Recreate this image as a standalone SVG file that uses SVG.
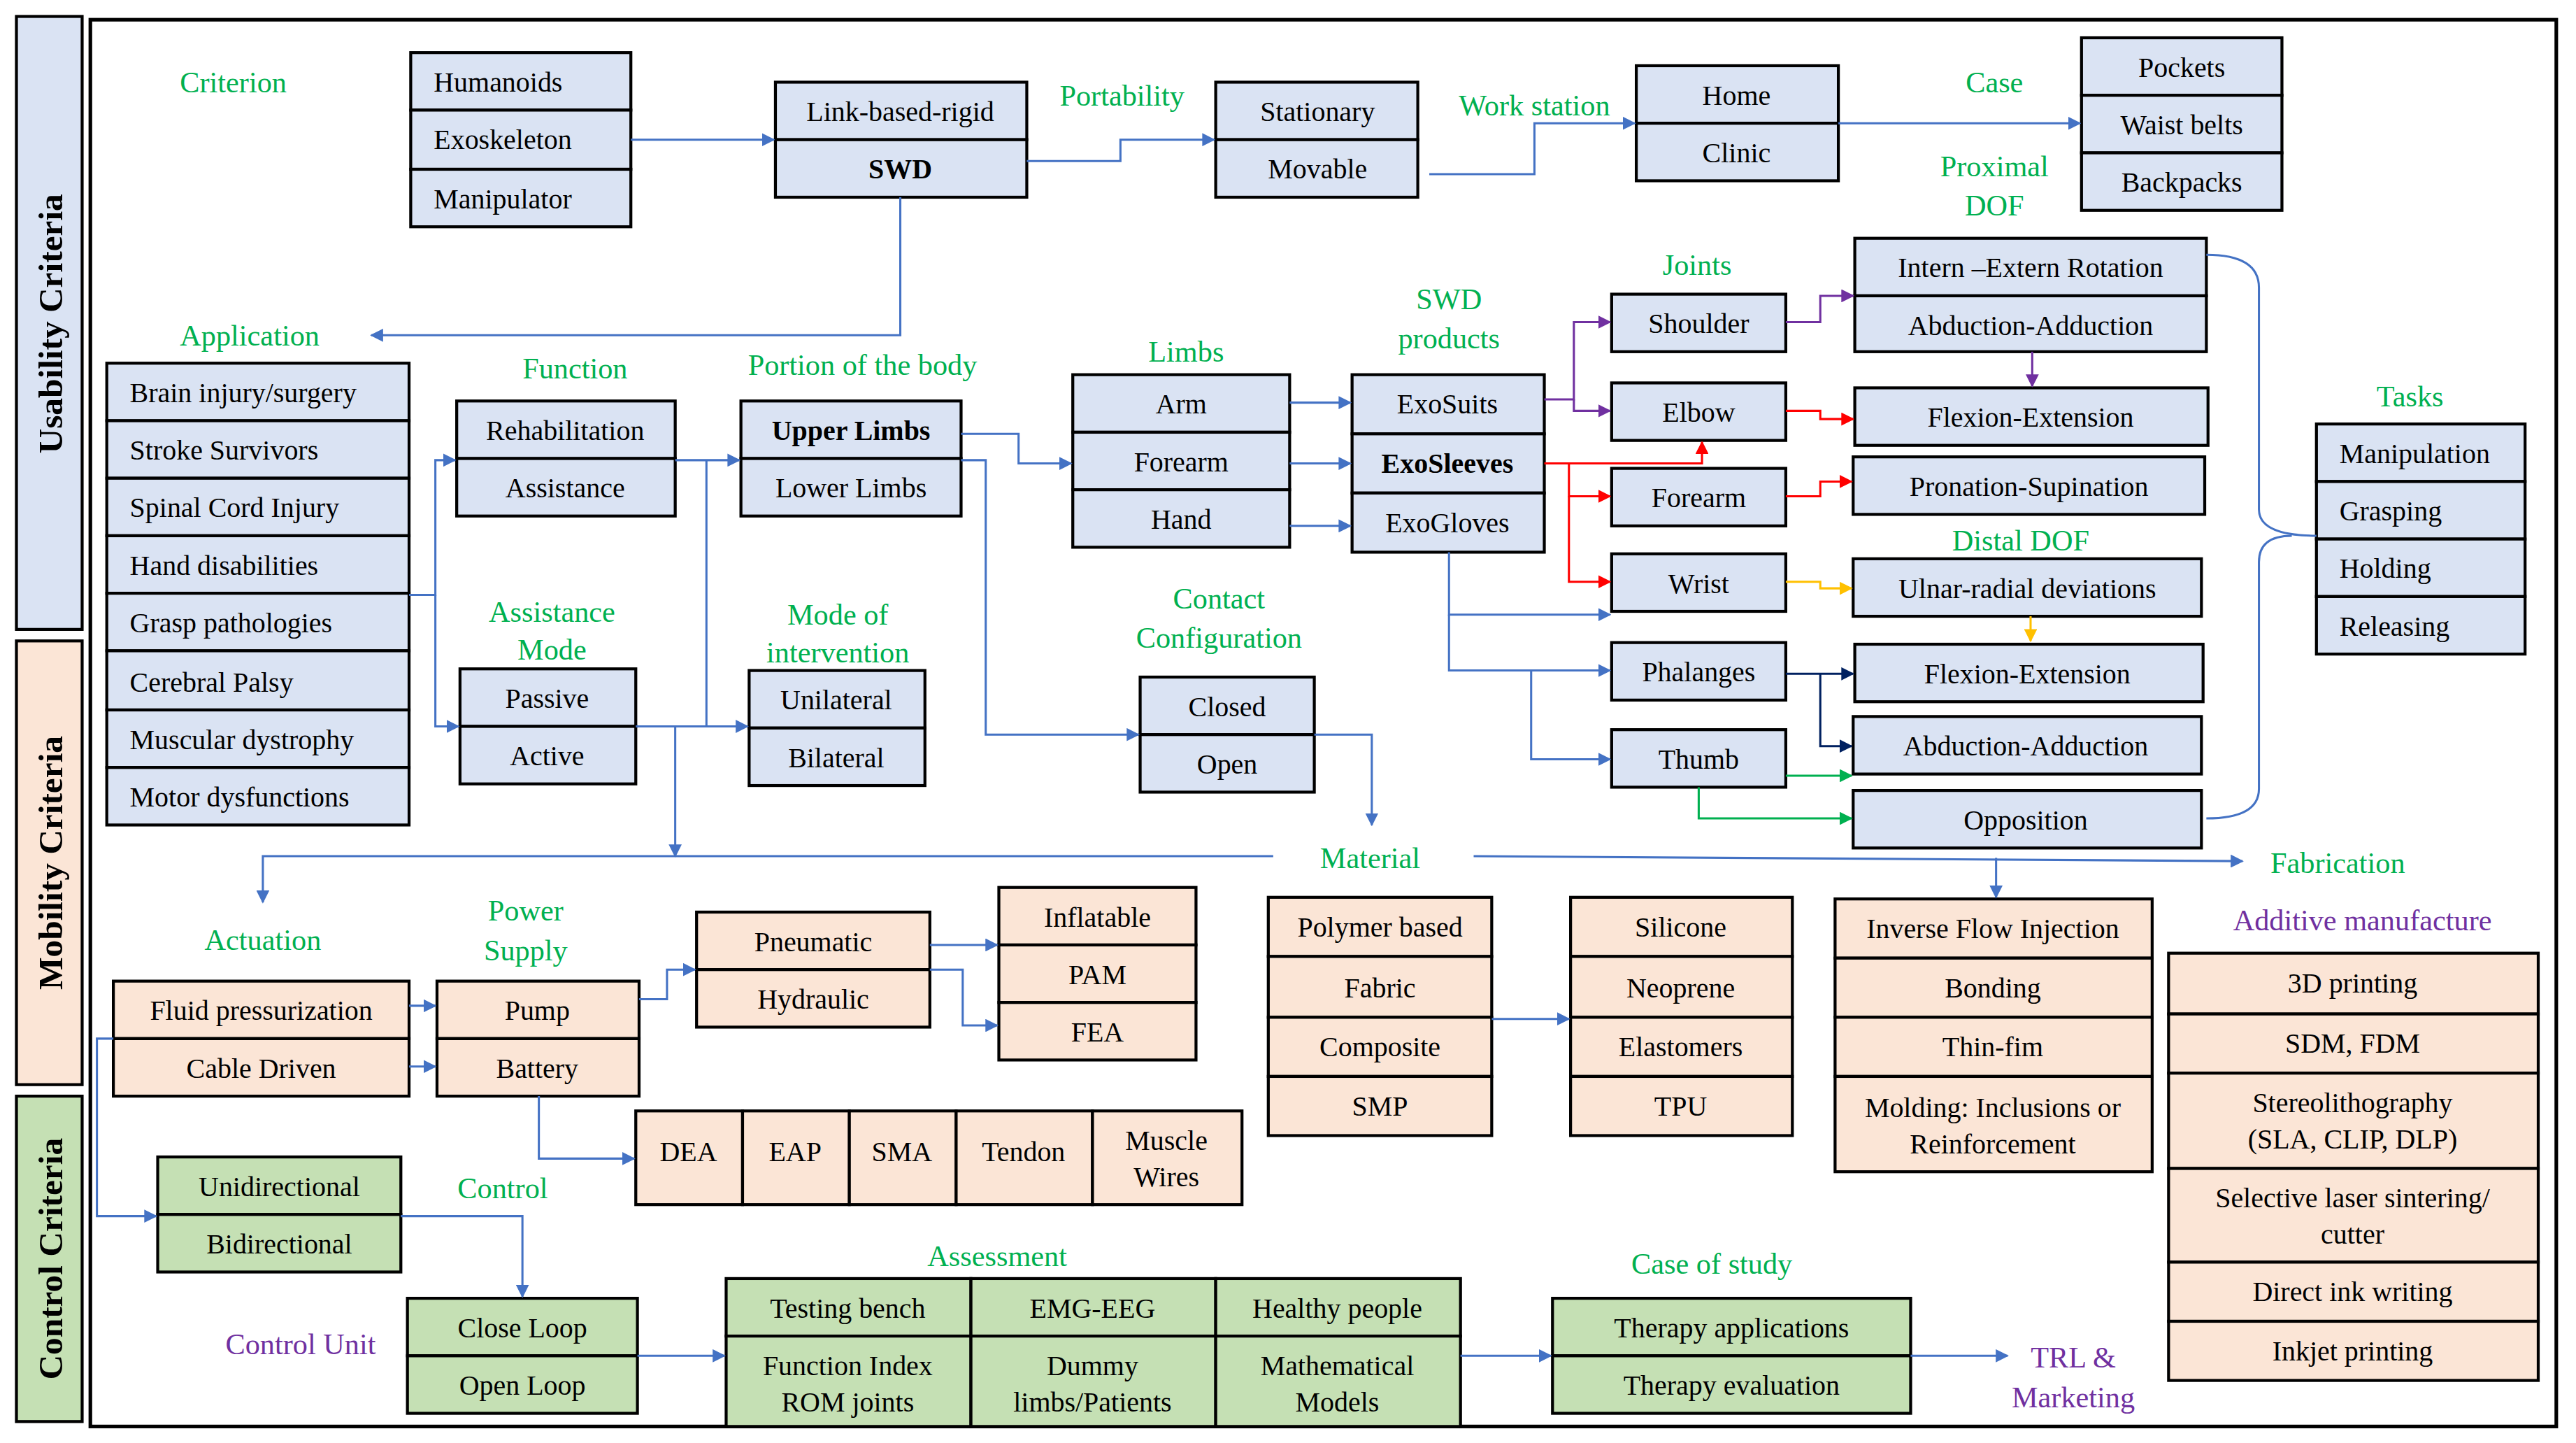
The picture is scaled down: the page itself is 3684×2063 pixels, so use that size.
<svg xmlns="http://www.w3.org/2000/svg" width="3684" height="2063" viewBox="0 0 3684 2063">
<style>
rect{stroke:#000;stroke-width:1.8}
.b{fill:#dae3f3}.p{fill:#fbe5d6}.g{fill:#c5e0b4}
text{font-family:"Liberation Serif","Times New Roman",serif;font-size:17px;fill:#000;text-anchor:middle;dominant-baseline:central}
.l{text-anchor:start}
.bo{font-weight:bold}
.gl{fill:#00b050;font-size:18px}
.pl{fill:#7030a0;font-size:18px}
.side{font-weight:bold;font-size:21px}
.c path{fill:none;stroke-width:1.3}
.bl{stroke:#4472c4}.pu{stroke:#7030a0}.rd{stroke:#ff0000}.ye{stroke:#ffc000}.nv{stroke:#002060}.gr{stroke:#00b050}
</style>
<defs>
<marker id="ab" viewBox="0 0 10 10" refX="9" refY="5" markerWidth="8" markerHeight="8" markerUnits="userSpaceOnUse" orient="auto"><path d="M0,0L10,5L0,10z" fill="#4472c4"/></marker>
<marker id="ap" viewBox="0 0 10 10" refX="9" refY="5" markerWidth="8" markerHeight="8" markerUnits="userSpaceOnUse" orient="auto"><path d="M0,0L10,5L0,10z" fill="#7030a0"/></marker>
<marker id="ar" viewBox="0 0 10 10" refX="9" refY="5" markerWidth="8" markerHeight="8" markerUnits="userSpaceOnUse" orient="auto"><path d="M0,0L10,5L0,10z" fill="#ff0000"/></marker>
<marker id="ay" viewBox="0 0 10 10" refX="9" refY="5" markerWidth="8" markerHeight="8" markerUnits="userSpaceOnUse" orient="auto"><path d="M0,0L10,5L0,10z" fill="#ffc000"/></marker>
<marker id="an" viewBox="0 0 10 10" refX="9" refY="5" markerWidth="8" markerHeight="8" markerUnits="userSpaceOnUse" orient="auto"><path d="M0,0L10,5L0,10z" fill="#002060"/></marker>
<marker id="ag" viewBox="0 0 10 10" refX="9" refY="5" markerWidth="8" markerHeight="8" markerUnits="userSpaceOnUse" orient="auto"><path d="M0,0L10,5L0,10z" fill="#00b050"/></marker>
</defs>
<rect x="0" y="0" width="3684" height="2063" style="fill:#fff;stroke:none"/>
<g transform="scale(2.3495)">
<rect x="55" y="12" width="1501" height="856" style="fill:none;stroke-width:2.2"/>
<g id="bands">
<rect class="b" x="10" y="10" width="40" height="373"/>
<rect class="p" x="10" y="390" width="40" height="270"/>
<rect class="g" x="10" y="667" width="40" height="198"/>
<text class="side" transform="translate(31,197) rotate(-90)">Usability Criteria</text>
<text class="side" transform="translate(31,525) rotate(-90)">Mobility Criteria</text>
<text class="side" transform="translate(31,766) rotate(-90)">Control Criteria</text>
</g>
<g id="labels">
<text class="gl" x="142" y="50">Criterion</text>
<text class="gl" x="683" y="58">Portability</text>
<text class="gl" x="934" y="64">Work station</text>
<text class="gl" x="1214" y="50">Case</text>
<text class="gl" x="1214" y="101">Proximal</text><text class="gl" x="1214" y="125">DOF</text>
<text class="gl" x="152" y="204">Application</text>
<text class="gl" x="350" y="224">Function</text>
<text class="gl" x="525" y="222">Portion of the body</text>
<text class="gl" x="722" y="214">Limbs</text>
<text class="gl" x="882" y="182">SWD</text><text class="gl" x="882" y="206">products</text>
<text class="gl" x="1033" y="161">Joints</text>
<text class="gl" x="1467" y="241">Tasks</text>
<text class="gl" x="1230" y="329">Distal DOF</text>
<text class="gl" x="336" y="372">Assistance</text><text class="gl" x="336" y="395">Mode</text>
<text class="gl" x="510" y="374">Mode of</text><text class="gl" x="510" y="397">intervention</text>
<text class="gl" x="742" y="364">Contact</text><text class="gl" x="742" y="388">Configuration</text>
<text class="gl" x="834" y="522">Material</text>
<text class="gl" x="1423" y="525">Fabrication</text>
<text class="pl" x="1438" y="560">Additive manufacture</text>
<text class="gl" x="160" y="572">Actuation</text>
<text class="gl" x="320" y="554">Power</text><text class="gl" x="320" y="578">Supply</text>
<text class="gl" x="306" y="723">Control</text>
<text class="pl" x="183" y="818">Control Unit</text>
<text class="gl" x="607" y="764">Assessment</text>
<text class="gl" x="1042" y="769">Case of study</text>
<text class="pl" x="1262" y="826">TRL &amp;</text><text class="pl" x="1262" y="850">Marketing</text>
</g>
<g id="criterion"><rect class="b" x="250" y="32" width="134" height="35"/><rect class="b" x="250" y="67" width="134" height="36"/><rect class="b" x="250" y="103" width="134" height="35"/>
<text class="l" x="264" y="50">Humanoids</text><text class="l" x="264" y="85">Exoskeleton</text><text class="l" x="264" y="121">Manipulator</text></g>
<g id="swd"><rect class="b" x="472" y="50" width="153" height="35"/><rect class="b" x="472" y="85" width="153" height="35"/>
<text x="548" y="68">Link-based-rigid</text><text class="bo" x="548" y="103">SWD</text></g>
<g id="portability"><rect class="b" x="740" y="50" width="123" height="35"/><rect class="b" x="740" y="85" width="123" height="35"/>
<text x="802" y="68">Stationary</text><text x="802" y="103">Movable</text></g>
<g id="workstation"><rect class="b" x="996" y="40" width="123" height="35"/><rect class="b" x="996" y="75" width="123" height="35"/>
<text x="1057" y="58">Home</text><text x="1057" y="93">Clinic</text></g>
<g id="case"><rect class="b" x="1267" y="23" width="122" height="35"/><rect class="b" x="1267" y="58" width="122" height="35"/><rect class="b" x="1267" y="93" width="122" height="35"/>
<text x="1328" y="41">Pockets</text><text x="1328" y="76">Waist belts</text><text x="1328" y="111">Backpacks</text></g>
<g id="application">
<rect class="b" x="65" y="221" width="184" height="35"/><rect class="b" x="65" y="256" width="184" height="35"/><rect class="b" x="65" y="291" width="184" height="35"/><rect class="b" x="65" y="326" width="184" height="35"/><rect class="b" x="65" y="361" width="184" height="35"/><rect class="b" x="65" y="396" width="184" height="36"/><rect class="b" x="65" y="432" width="184" height="35"/><rect class="b" x="65" y="467" width="184" height="35"/>
<text class="l" x="79" y="239">Brain injury/surgery</text><text class="l" x="79" y="274">Stroke Survivors</text><text class="l" x="79" y="309">Spinal Cord Injury</text><text class="l" x="79" y="344">Hand disabilities</text><text class="l" x="79" y="379">Grasp pathologies</text><text class="l" x="79" y="415">Cerebral Palsy</text><text class="l" x="79" y="450">Muscular dystrophy</text><text class="l" x="79" y="485">Motor dysfunctions</text></g>
<g id="function"><rect class="b" x="278" y="244" width="133" height="35"/><rect class="b" x="278" y="279" width="133" height="35"/>
<text x="344" y="262">Rehabilitation</text><text x="344" y="297">Assistance</text></g>
<g id="portion"><rect class="b" x="451" y="244" width="134" height="35"/><rect class="b" x="451" y="279" width="134" height="35"/>
<text class="bo" x="518" y="262">Upper Limbs</text><text x="518" y="297">Lower Limbs</text></g>
<g id="assist"><rect class="b" x="280" y="407" width="107" height="35"/><rect class="b" x="280" y="442" width="107" height="35"/>
<text x="333" y="425">Passive</text><text x="333" y="460">Active</text></g>
<g id="mode"><rect class="b" x="456" y="408" width="107" height="35"/><rect class="b" x="456" y="443" width="107" height="35"/>
<text x="509" y="426">Unilateral</text><text x="509" y="461">Bilateral</text></g>
<g id="limbs"><rect class="b" x="653" y="228" width="132" height="35"/><rect class="b" x="653" y="263" width="132" height="35"/><rect class="b" x="653" y="298" width="132" height="35"/>
<text x="719" y="246">Arm</text><text x="719" y="281">Forearm</text><text x="719" y="316">Hand</text></g>
<g id="products"><rect class="b" x="823" y="228" width="117" height="36"/><rect class="b" x="823" y="264" width="117" height="36"/><rect class="b" x="823" y="300" width="117" height="36"/>
<text x="881" y="246">ExoSuits</text><text class="bo" x="881" y="282">ExoSleeves</text><text x="881" y="318">ExoGloves</text></g>
<g id="contact"><rect class="b" x="694" y="412" width="106" height="35"/><rect class="b" x="694" y="447" width="106" height="35"/>
<text x="747" y="430">Closed</text><text x="747" y="465">Open</text></g>
<g id="joints">
<rect class="b" x="981" y="179" width="106" height="35"/><text x="1034" y="197">Shoulder</text>
<rect class="b" x="981" y="233" width="106" height="35"/><text x="1034" y="251">Elbow</text>
<rect class="b" x="981" y="285" width="106" height="35"/><text x="1034" y="303">Forearm</text>
<rect class="b" x="981" y="337" width="106" height="35"/><text x="1034" y="355">Wrist</text>
<rect class="b" x="981" y="391" width="106" height="35"/><text x="1034" y="409">Phalanges</text>
<rect class="b" x="981" y="444" width="106" height="35"/><text x="1034" y="462">Thumb</text></g>
<g id="dof">
<rect class="b" x="1129" y="145" width="214" height="35"/><text x="1236" y="163">Intern –Extern Rotation</text>
<rect class="b" x="1129" y="180" width="214" height="34"/><text x="1236" y="198">Abduction-Adduction</text>
<rect class="b" x="1129" y="236" width="215" height="35"/><text x="1236" y="254">Flexion-Extension</text>
<rect class="b" x="1128" y="278" width="214" height="35"/><text x="1235" y="296">Pronation-Supination</text>
<rect class="b" x="1128" y="340" width="212" height="35"/><text x="1234" y="358">Ulnar-radial deviations</text>
<rect class="b" x="1129" y="392" width="212" height="35"/><text x="1234" y="410">Flexion-Extension</text>
<rect class="b" x="1128" y="436" width="212" height="35"/><text x="1233" y="454">Abduction-Adduction</text>
<rect class="b" x="1128" y="481" width="212" height="35"/><text x="1233" y="499">Opposition</text></g>
<g id="tasks"><rect class="b" x="1410" y="258" width="127" height="35"/><rect class="b" x="1410" y="293" width="127" height="35"/><rect class="b" x="1410" y="328" width="127" height="35"/><rect class="b" x="1410" y="363" width="127" height="35"/>
<text class="l" x="1424" y="276">Manipulation</text><text class="l" x="1424" y="311">Grasping</text><text class="l" x="1424" y="346">Holding</text><text class="l" x="1424" y="381">Releasing</text></g>
<g id="materials"><rect class="p" x="772" y="546" width="136" height="36"/><rect class="p" x="772" y="582" width="136" height="37"/><rect class="p" x="772" y="619" width="136" height="36"/><rect class="p" x="772" y="655" width="136" height="36"/>
<text x="840" y="564">Polymer based</text><text x="840" y="601">Fabric</text><text x="840" y="637">Composite</text><text x="840" y="673">SMP</text></g>
<g id="materials2"><rect class="p" x="956" y="546" width="135" height="36"/><rect class="p" x="956" y="582" width="135" height="37"/><rect class="p" x="956" y="619" width="135" height="36"/><rect class="p" x="956" y="655" width="135" height="36"/>
<text x="1023" y="564">Silicone</text><text x="1023" y="601">Neoprene</text><text x="1023" y="637">Elastomers</text><text x="1023" y="673">TPU</text></g>
<g id="fabrication"><rect class="p" x="1117" y="547" width="193" height="36"/><rect class="p" x="1117" y="583" width="193" height="36"/><rect class="p" x="1117" y="619" width="193" height="36"/><rect class="p" x="1117" y="655" width="193" height="58"/>
<text x="1213" y="565">Inverse Flow Injection</text><text x="1213" y="601">Bonding</text><text x="1213" y="637">Thin-fim</text><text x="1213" y="674">Molding: Inclusions or</text><text x="1213" y="696">Reinforcement</text></g>
<g id="additive"><rect class="p" x="1320" y="580" width="225" height="37"/><rect class="p" x="1320" y="617" width="225" height="36"/><rect class="p" x="1320" y="653" width="225" height="58"/><rect class="p" x="1320" y="711" width="225" height="57"/><rect class="p" x="1320" y="768" width="225" height="36"/><rect class="p" x="1320" y="804" width="225" height="36"/>
<text x="1432" y="598">3D printing</text><text x="1432" y="635">SDM, FDM</text><text x="1432" y="671">Stereolithography</text><text x="1432" y="693">(SLA, CLIP, DLP)</text><text x="1432" y="729">Selective laser sintering/</text><text x="1432" y="751">cutter</text><text x="1432" y="786">Direct ink writing</text><text x="1432" y="822">Inkjet printing</text></g>
<g id="actuation"><rect class="p" x="69" y="597" width="180" height="35"/><rect class="p" x="69" y="632" width="180" height="35"/>
<text x="159" y="615">Fluid pressurization</text><text x="159" y="650">Cable Driven</text></g>
<g id="power"><rect class="p" x="266" y="597" width="123" height="35"/><rect class="p" x="266" y="632" width="123" height="35"/>
<text x="327" y="615">Pump</text><text x="327" y="650">Battery</text></g>
<g id="fluid"><rect class="p" x="424" y="555" width="142" height="35"/><rect class="p" x="424" y="590" width="142" height="35"/>
<text x="495" y="573">Pneumatic</text><text x="495" y="608">Hydraulic</text></g>
<g id="soft"><rect class="p" x="608" y="540" width="120" height="35"/><rect class="p" x="608" y="575" width="120" height="35"/><rect class="p" x="608" y="610" width="120" height="35"/>
<text x="668" y="558">Inflatable</text><text x="668" y="593">PAM</text><text x="668" y="628">FEA</text></g>
<g id="electric"><rect class="p" x="387" y="676" width="65" height="57"/><rect class="p" x="452" y="676" width="65" height="57"/><rect class="p" x="517" y="676" width="65" height="57"/><rect class="p" x="582" y="676" width="83" height="57"/><rect class="p" x="665" y="676" width="91" height="57"/>
<text x="419" y="701">DEA</text><text x="484" y="701">EAP</text><text x="549" y="701">SMA</text><text x="623" y="701">Tendon</text><text x="710" y="694">Muscle</text><text x="710" y="716">Wires</text></g>
<g id="control"><rect class="g" x="96" y="704" width="148" height="35"/><rect class="g" x="96" y="739" width="148" height="35"/>
<text x="170" y="722">Unidirectional</text><text x="170" y="757">Bidirectional</text></g>
<g id="controlunit"><rect class="g" x="248" y="790" width="140" height="35"/><rect class="g" x="248" y="825" width="140" height="35"/>
<text x="318" y="808">Close Loop</text><text x="318" y="843">Open  Loop</text></g>
<g id="assessment"><rect class="g" x="442" y="778" width="149" height="35"/><rect class="g" x="591" y="778" width="149" height="35"/><rect class="g" x="740" y="778" width="149" height="35"/><rect class="g" x="442" y="813" width="149" height="55"/><rect class="g" x="591" y="813" width="149" height="55"/><rect class="g" x="740" y="813" width="149" height="55"/>
<text x="516" y="796">Testing bench</text><text x="665" y="796">EMG-EEG</text><text x="814" y="796">Healthy people</text>
<text x="516" y="831">Function Index</text><text x="516" y="853">ROM joints</text><text x="665" y="831">Dummy</text><text x="665" y="853">limbs/Patients</text><text x="814" y="831">Mathematical</text><text x="814" y="853">Models</text></g>
<g id="study"><rect class="g" x="945" y="790" width="218" height="35"/><rect class="g" x="945" y="825" width="218" height="35"/>
<text x="1054" y="808">Therapy applications</text><text x="1054" y="843">Therapy evaluation</text></g>
<g id="connectors" class="c">
<path class="bl" d="M384,85H471" marker-end="url(#ab)"/>
<path class="bl" d="M625,98H682V85H739" marker-end="url(#ab)"/>
<path class="bl" d="M870,106H934V75H995" marker-end="url(#ab)"/>
<path class="bl" d="M1119,75H1266" marker-end="url(#ab)"/>
<path class="bl" d="M548,120V204H226" marker-end="url(#ab)"/>
<path class="bl" d="M249,362H265V280H277" marker-end="url(#ab)"/>
<path class="bl" d="M265,362V442H279" marker-end="url(#ab)"/>
<path class="bl" d="M411,280H450" marker-end="url(#ab)"/>
<path class="bl" d="M430,280V442" />
<path class="bl" d="M387,442H455" marker-end="url(#ab)"/>
<path class="bl" d="M411,442V521" marker-end="url(#ab)"/>
<path class="bl" d="M585,264H620V282H652" marker-end="url(#ab)"/>
<path class="bl" d="M585,280H600V447H693" marker-end="url(#ab)"/>
<path class="bl" d="M785,245H822" marker-end="url(#ab)"/>
<path class="bl" d="M785,282H822" marker-end="url(#ab)"/>
<path class="bl" d="M785,320H822" marker-end="url(#ab)"/>
<path class="bl" d="M800,447H835V502" marker-end="url(#ab)"/>
<path class="bl" d="M882,336V374H980" marker-end="url(#ab)"/>
<path class="bl" d="M882,374V408H980" marker-end="url(#ab)"/>
<path class="bl" d="M932,408V462H980" marker-end="url(#ab)"/>
<path class="pu" d="M940,243H958V196H980" marker-end="url(#ap)"/>
<path class="pu" d="M958,243V250H980" marker-end="url(#ap)"/>
<path class="pu" d="M1087,196H1108V180H1128" marker-end="url(#ap)"/>
<path class="pu" d="M1237,214V235" marker-end="url(#ap)"/>
<path class="rd" d="M940,282H1036V269" marker-end="url(#ar)"/>
<path class="rd" d="M955,282V302H980" marker-end="url(#ar)"/>
<path class="rd" d="M955,302V354H980" marker-end="url(#ar)"/>
<path class="rd" d="M1087,250H1108V255H1128" marker-end="url(#ar)"/>
<path class="rd" d="M1087,302H1108V293H1127" marker-end="url(#ar)"/>
<path class="ye" d="M1087,354H1108V358H1127" marker-end="url(#ay)"/>
<path class="ye" d="M1236,375V390" marker-end="url(#ay)"/>
<path class="nv" d="M1087,410H1128" marker-end="url(#an)"/>
<path class="nv" d="M1108,410V454H1127" marker-end="url(#an)"/>
<path class="gr" d="M1087,472H1127" marker-end="url(#ag)"/>
<path class="gr" d="M1034,479V498H1127" marker-end="url(#ag)"/>
<path class="bl" d="M1343,155Q1375,155 1375,175V310Q1375,326 1410,326"/>
<path class="bl" d="M1343,498Q1375,498 1375,480V342Q1375,326 1395,326"/>
<path class="bl" d="M775,521H160V549" marker-end="url(#ab)"/>
<path class="bl" d="M897,521L1365,524" marker-end="url(#ab)"/>
<path class="bl" d="M1215,522V546" marker-end="url(#ab)"/>
<path class="bl" d="M908,620H955" marker-end="url(#ab)"/>
<path class="bl" d="M249,612H265" marker-end="url(#ab)"/>
<path class="bl" d="M249,649H265" marker-end="url(#ab)"/>
<path class="bl" d="M389,608H406V590H423" marker-end="url(#ab)"/>
<path class="bl" d="M566,575H607" marker-end="url(#ab)"/>
<path class="bl" d="M566,590H586V624H607" marker-end="url(#ab)"/>
<path class="bl" d="M328,667V705H386" marker-end="url(#ab)"/>
<path class="bl" d="M69,632H59V740H95" marker-end="url(#ab)"/>
<path class="bl" d="M244,740H318V789" marker-end="url(#ab)"/>
<path class="bl" d="M388,825H441" marker-end="url(#ab)"/>
<path class="bl" d="M889,825H944" marker-end="url(#ab)"/>
<path class="bl" d="M1163,825H1222" marker-end="url(#ab)"/>
</g>
</g>
</svg>
